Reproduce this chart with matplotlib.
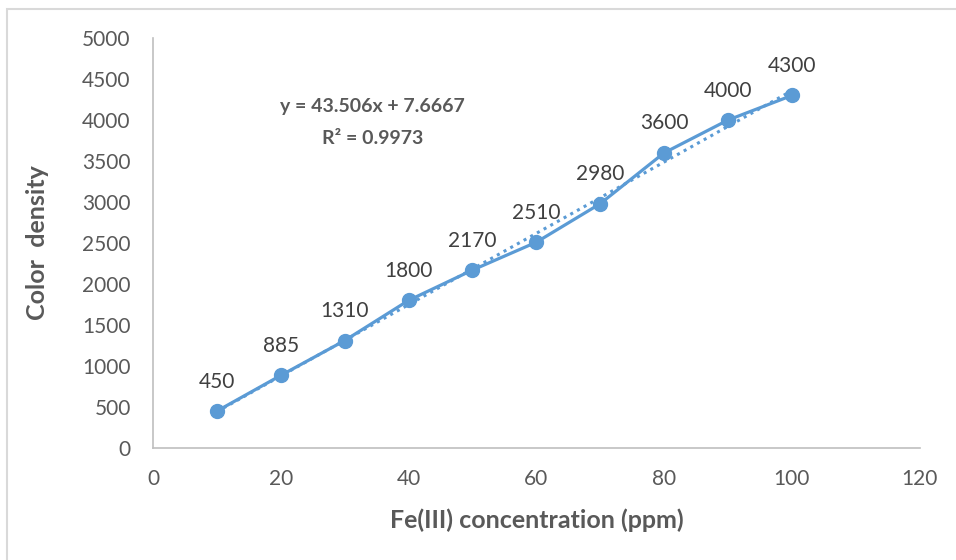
import numpy as np
import matplotlib.pyplot as plt
from matplotlib.patches import Rectangle

plt.rcParams['font.family'] = ['Lato', 'DejaVu Sans']

# data
conc = [10, 20, 30, 40, 50, 60, 70, 80, 90, 100]
density = [450, 885, 1310, 1800, 2170, 2510, 2980, 3600, 4000, 4300]
xticks = [0, 20, 40, 60, 80, 100, 120]
yticks = [0, 500, 1000, 1500, 2000, 2500, 3000, 3500, 4000, 4500, 5000]

blue = '#5B9BD5'
grey = '#595959'

fig = plt.figure(figsize=(9.56, 5.6), dpi=100)
ax = fig.add_axes([0.160, 0.200, 0.802, 0.732])

# outer chart border (Excel style)
fig.patches.append(Rectangle((7 / 956, -0.05), 1.2, 1 - 9 / 560 + 0.05,
                             transform=fig.transFigure, fill=False,
                             edgecolor='#D9D9D9', linewidth=1.5))

# linear trendline
slope, icpt = np.polyfit(conc, density, 1)
xs = np.array([conc[0], conc[-1]])
ax.plot(xs, slope * xs + icpt, linestyle=(0, (1, 1.5)), color=blue, linewidth=2.2)

ax.plot(conc, density, color=blue, linewidth=2.3, marker='o', markersize=10, zorder=3)

for x, y in zip(conc, density):
    ax.annotate(str(y), (x, y), xytext=(0, 14), textcoords='offset points',
                ha='center', va='bottom', fontsize=15, color='#404040')

ax.text(34.4, 4160, 'y = 43.506x + 7.6667', ha='center', va='center',
        fontsize=14, fontweight='bold', color=grey)
ax.text(34.4, 3780, 'R² = 0.9973', ha='center', va='center',
        fontsize=14, fontweight='bold', color=grey)

ax.set_xlim(0, 120)
ax.set_ylim(0, 5000)
ax.set_xticks(xticks)
ax.set_yticks(yticks)
ax.tick_params(length=0, labelsize=15, labelcolor=grey)
ax.tick_params(axis='y', pad=16)
ax.tick_params(axis='x', pad=15)
for s in ['top', 'right']:
    ax.spines[s].set_visible(False)
for s in ['left', 'bottom']:
    ax.spines[s].set_color('#BFBFBF')
    ax.spines[s].set_linewidth(1.2)

ax.set_xlabel('Fe(III) concentration (ppm)', fontsize=18, fontweight='bold',
              color=grey, labelpad=14)
ax.set_ylabel('Color  density', fontsize=18, fontweight='bold', color=grey,
              labelpad=24)

fig.savefig('out.png', dpi=100)
